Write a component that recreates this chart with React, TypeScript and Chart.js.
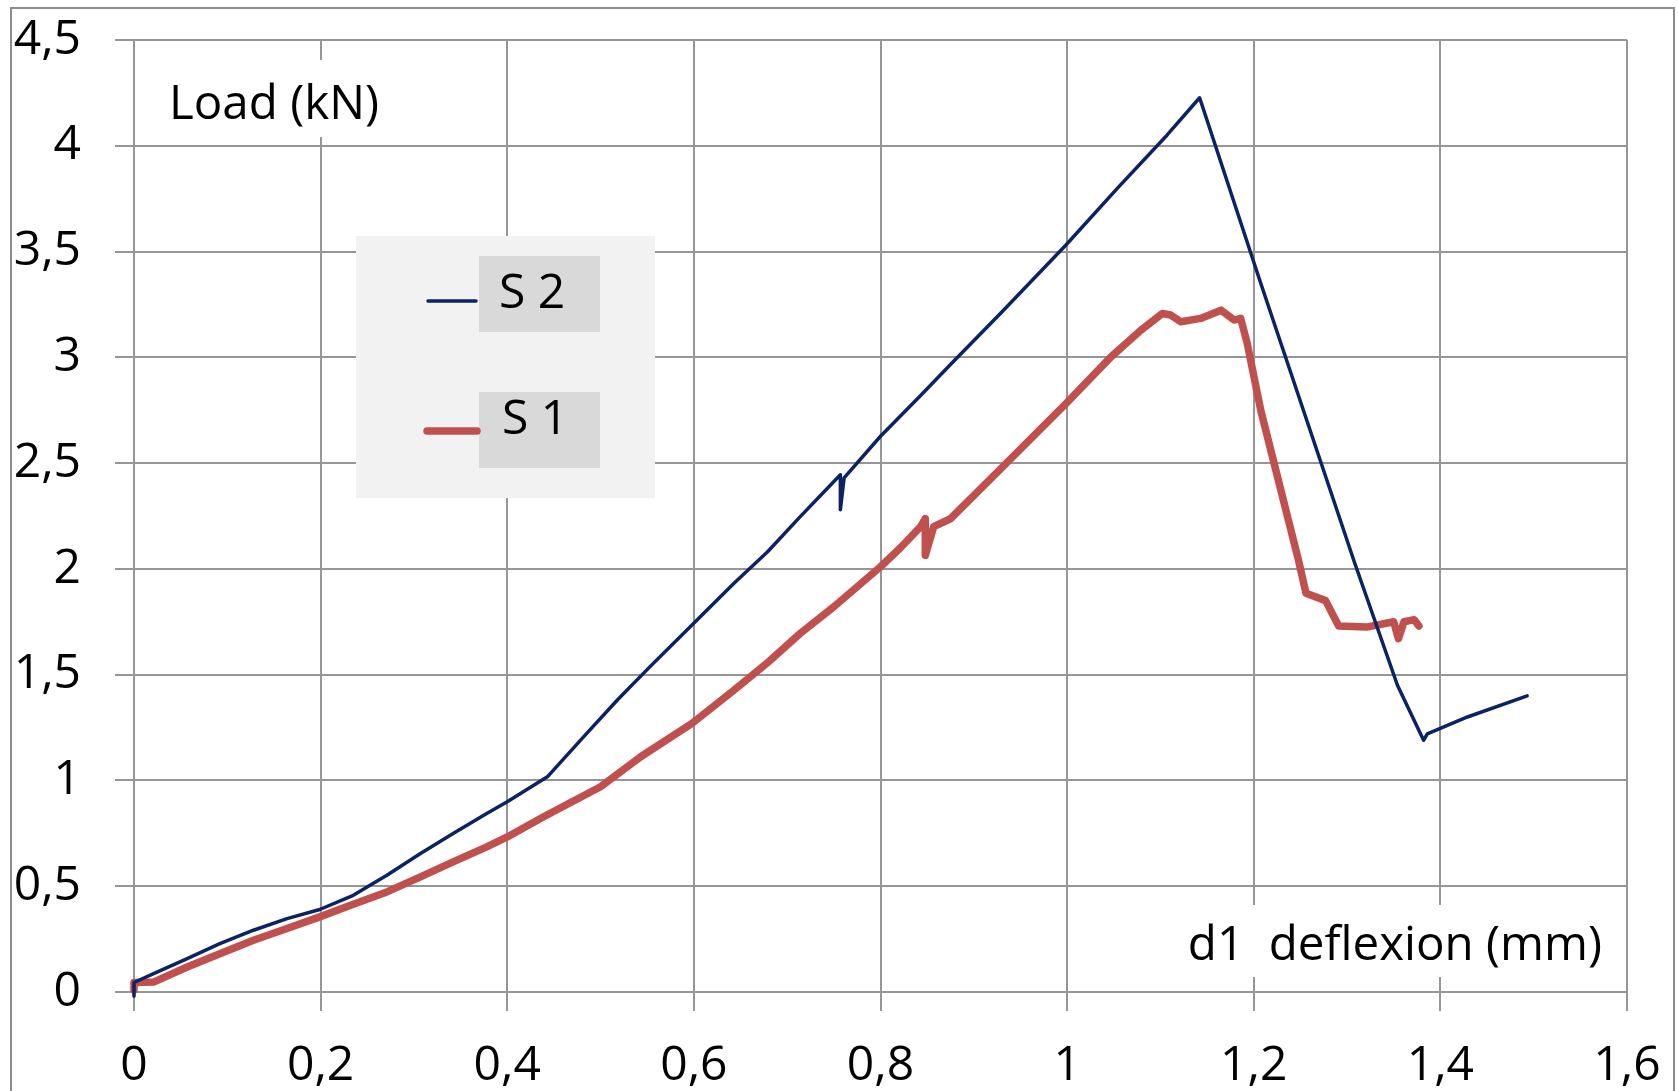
import React, { useEffect, useRef } from "react";
import { Chart, registerables } from "chart.js";

Chart.register(...registerables);

// ---- data ----
const seriesLabels = ["S 2", "S 1"];
const seriesColors = ["#0b2362", "#c0504d"];

const s2X = [0, 0, 0.021, 0.057, 0.092, 0.128, 0.164, 0.199, 0.235, 0.271, 0.307, 0.342, 0.378, 0.4, 0.443, 0.482, 0.518, 0.553, 0.598, 0.643, 0.679, 0.714, 0.757, 0.757, 0.761, 0.8, 0.843, 0.875, 0.929, 0.999, 1.054, 1.107, 1.142, 1.2075, 1.308, 1.354, 1.382, 1.386, 1.429, 1.493];
const s2Y = [-0.02, 0.045, 0.087, 0.158, 0.229, 0.292, 0.347, 0.39, 0.457, 0.552, 0.655, 0.749, 0.844, 0.899, 1.017, 1.207, 1.38, 1.538, 1.735, 1.932, 2.081, 2.247, 2.445, 2.28, 2.43, 2.627, 2.82, 2.966, 3.21, 3.532, 3.8, 4.05, 4.227, 3.35, 2.03, 1.45, 1.19, 1.22, 1.3, 1.4];

const s1X = [0, 0, 0.021, 0.057, 0.092, 0.128, 0.164, 0.199, 0.235, 0.271, 0.307, 0.342, 0.378, 0.4, 0.439, 0.5, 0.543, 0.598, 0.643, 0.678, 0.714, 0.75, 0.8, 0.8214, 0.843, 0.848, 0.848, 0.857, 0.875, 0.929, 0.999, 1.047, 1.079, 1.102, 1.111, 1.122, 1.143, 1.165, 1.179, 1.186, 1.193, 1.2075, 1.248, 1.256, 1.277, 1.291, 1.321, 1.35, 1.355, 1.361, 1.372, 1.377];
const s1Y = [0.01, 0.045, 0.047, 0.118, 0.181, 0.245, 0.3, 0.355, 0.415, 0.473, 0.544, 0.615, 0.686, 0.733, 0.828, 0.97, 1.112, 1.27, 1.427, 1.553, 1.695, 1.821, 2.01, 2.1, 2.2, 2.237, 2.064, 2.2, 2.237, 2.474, 2.782, 3.002, 3.128, 3.207, 3.2, 3.168, 3.184, 3.223, 3.176, 3.184, 3.066, 2.75, 2.04, 1.885, 1.85, 1.73, 1.725, 1.75, 1.67, 1.75, 1.76, 1.73];

const xTickValues = [0, 0.2, 0.4, 0.6, 0.8, 1, 1.2, 1.4, 1.6];
const xTickLabels = ["0", "0,2", "0,4", "0,6", "0,8", "1", "1,2", "1,4", "1,6"];
const yTickValues = [0, 0.5, 1, 1.5, 2, 2.5, 3, 3.5, 4, 4.5];
const yTickLabels = ["0", "0,5", "1", "1,5", "2", "2,5", "3", "3,5", "4", "4,5"];

const yAxisTitle = "Load (kN)";
const xAxisTitle = "d1  deflexion (mm)";

const W = 1678;
const H = 1091;
const FONT = '"Open Sans", "DejaVu Sans", sans-serif';
const GRID = "#969696";

const decorPlugin = {
  id: "decor",
  beforeDraw(chart: any) {
    const ctx = chart.ctx;
    ctx.save();
    ctx.fillStyle = "#ffffff";
    ctx.fillRect(0, 0, W, H);
    ctx.strokeStyle = "#8c8c8c";
    ctx.lineWidth = 2;
    ctx.strokeRect(11, 8, 1663, 1200);
    ctx.restore();
  },
  beforeDatasetsDraw(chart: any) {
    const ctx = chart.ctx;
    ctx.save();
    // axis titles with white backgrounds
    ctx.fillStyle = "#ffffff";
    ctx.fillRect(160, 60, 232, 77);
    ctx.fillRect(1170, 905, 444, 72);
    ctx.fillStyle = "#000000";
    ctx.font = `47.5px ${FONT}`;
    ctx.textBaseline = "alphabetic";
    ctx.textAlign = "left";
    ctx.fillText(yAxisTitle, 169, 119);
    ctx.textAlign = "right";
    ctx.fillText(xAxisTitle, 1602, 960);

    // legend
    ctx.fillStyle = "#f2f2f2";
    ctx.fillRect(356, 236, 299, 262);
    const rows = [
      { boxY: 256, lineY: 301, lx0: 428, lx1: 476, tx: 499, ty: 308 },
      { boxY: 392, lineY: 431, lx0: 427, lx1: 477, tx: 502, ty: 434 },
    ];
    chart.data.datasets.forEach((ds: any, i: number) => {
      const r = rows[i];
      ctx.fillStyle = "#d9d9d9";
      ctx.fillRect(479, r.boxY, 121, 76);
      ctx.strokeStyle = ds.borderColor;
      ctx.lineWidth = ds.borderWidth;
      ctx.lineCap = "round";
      ctx.beginPath();
      ctx.moveTo(r.lx0, r.lineY);
      ctx.lineTo(r.lx1, r.lineY);
      ctx.stroke();
      ctx.fillStyle = "#000000";
      ctx.font = `48px ${FONT}`;
      ctx.textAlign = "left";
      ctx.fillText(ds.label, r.tx, r.ty);
    });
    ctx.restore();
  },
};

const zeroPad = (s: any) => {
  s.paddingLeft = 0;
  s.paddingRight = 0;
  s.paddingTop = 0;
  s.paddingBottom = 0;
};

export default function App() {
  const ref = useRef<HTMLCanvasElement | null>(null);

  useEffect(() => {
    document.body.style.margin = "0";
    const canvas = ref.current;
    if (!canvas) return;
    const mk = (xs: number[], ys: number[]) => xs.map((x, i) => ({ x, y: ys[i] }));
    const chart = new Chart(canvas, {
      type: "line",
      data: {
        datasets: [
          {
            label: seriesLabels[0],
            data: mk(s2X, s2Y),
            borderColor: seriesColors[0],
            backgroundColor: seriesColors[0],
            borderWidth: 3.5,
            pointRadius: 0,
            tension: 0,
            borderJoinStyle: "round",
            borderCapStyle: "round",
            clip: false,
          },
          {
            label: seriesLabels[1],
            data: mk(s1X, s1Y),
            borderColor: seriesColors[1],
            backgroundColor: seriesColors[1],
            borderWidth: 7.5,
            pointRadius: 0,
            tension: 0,
            borderJoinStyle: "round",
            borderCapStyle: "round",
            clip: false,
          },
        ],
      },
      options: {
        animation: false,
        responsive: false,
        devicePixelRatio: 1,
        layout: { padding: { left: 0, top: 40, right: 51, bottom: 0 } },
        plugins: { legend: { display: false }, tooltip: { enabled: false } },
        scales: {
          x: {
            type: "linear",
            min: 0,
            max: 1.6,
            afterFit: (s: any) => {
              s.height = 99;
              zeroPad(s);
            },
            afterBuildTicks: (s: any) => {
              s.ticks = xTickValues.map((v) => ({ value: v }));
            },
            grid: { color: GRID, lineWidth: 2, tickLength: 19, drawTicks: true },
            border: { color: GRID, width: 2 },
            ticks: {
              autoSkip: false,
              maxRotation: 0,
              padding: 27,
              color: "#000",
              font: { family: FONT, size: 48 },
              callback: (_v: any, i: number) => xTickLabels[i],
            },
          },
          y: {
            type: "linear",
            min: 0,
            max: 4.5,
            afterFit: (s: any) => {
              s.width = 134;
              zeroPad(s);
            },
            afterBuildTicks: (s: any) => {
              s.ticks = yTickValues.map((v) => ({ value: v }));
            },
            grid: { color: GRID, lineWidth: 2, tickLength: 19, drawTicks: true },
            border: { color: GRID, width: 2 },
            ticks: {
              autoSkip: false,
              padding: 34,
              color: "#000",
              font: { family: FONT, size: 48 },
              callback: (_v: any, i: number) => yTickLabels[i],
            },
          },
        },
      },
      plugins: [decorPlugin],
    } as any);
    return () => chart.destroy();
  }, []);

  return (
    <div style={{ position: "fixed", left: 0, top: 0, width: W, height: H, background: "#fff" }}>
      <canvas ref={ref} width={W} height={H} style={{ display: "block", width: W, height: H }} />
    </div>
  );
}
